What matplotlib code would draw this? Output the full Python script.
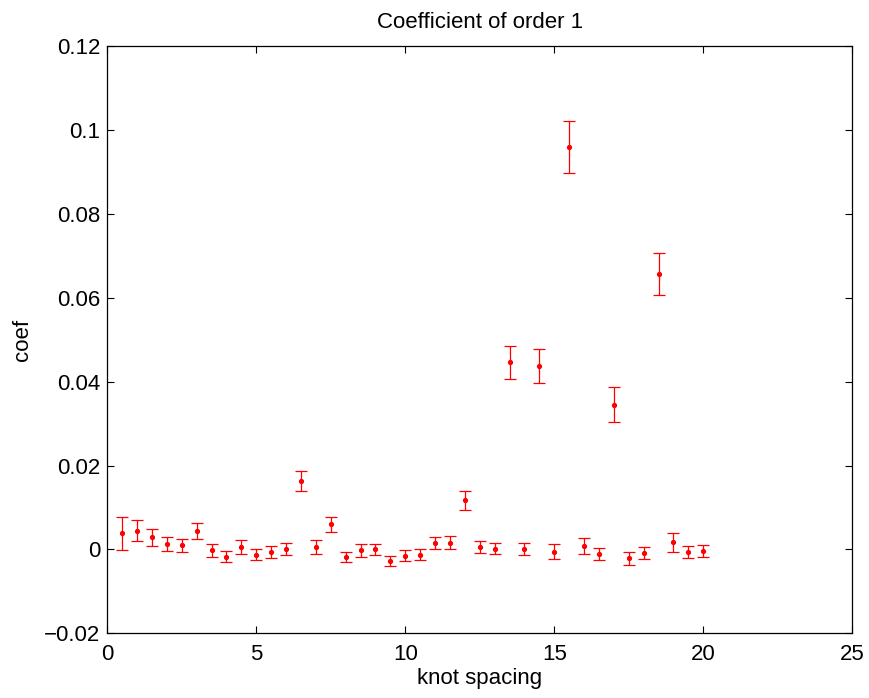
import numpy as np
import matplotlib
matplotlib.use('Agg')
import matplotlib.pyplot as plt

plt.rcParams['font.family'] = ['Liberation Sans', 'DejaVu Sans']

# knot spacing values
knots = [0.5, 1.0, 1.5, 2.0, 2.5, 3.0, 3.5, 4.0, 4.5, 5.0,
         5.5, 6.0, 6.5, 7.0, 7.5, 8.0, 8.5, 9.0, 9.5, 10.0,
         10.5, 11.0, 11.5, 12.0, 12.5, 13.0, 13.5, 14.0, 14.5, 15.0,
         15.5, 16.0, 16.5, 17.0, 17.5, 18.0, 18.5, 19.0, 19.5, 20.0]

# coefficient estimates
coef = [0.0038, 0.0045, 0.0029, 0.0013, 0.0010, 0.0044, -0.0002, -0.0017, 0.0006, -0.0013,
        -0.0006, 0.0001, 0.0164, 0.0006, 0.0060, -0.0018, -0.0002, 0.0000, -0.0027, -0.0015,
        -0.0013, 0.0016, 0.0016, 0.0117, 0.0005, 0.0002, 0.0446, 0.0001, 0.0437, -0.0005,
        0.0960, 0.0008, -0.0011, 0.0345, -0.0021, -0.0008, 0.0656, 0.0017, -0.0006, -0.0003]

# half-width of error bars
err = [0.0039, 0.0025, 0.0020, 0.0017, 0.0015, 0.0020, 0.0015, 0.0013, 0.0016, 0.0013,
       0.0015, 0.0015, 0.0024, 0.0016, 0.0018, 0.0012, 0.0016, 0.0013, 0.0012, 0.0013,
       0.0013, 0.0014, 0.0015, 0.0022, 0.0014, 0.0014, 0.0039, 0.0014, 0.0040, 0.0017,
       0.0062, 0.0019, 0.0014, 0.0041, 0.0015, 0.0014, 0.0050, 0.0022, 0.0015, 0.0014]

fig = plt.figure(figsize=(8.7, 6.98), dpi=100)
ax = fig.add_axes([0.1233, 0.0927, 0.8563, 0.8413])

ax.errorbar(knots, coef, yerr=err, fmt='.', color='red', ecolor='red',
            markersize=5.5, elinewidth=0.9, capsize=4, capthick=0.9)

ax.set_xlim(0, 25)
ax.set_ylim(-0.02, 0.12)
ax.set_xticks([0, 5, 10, 15, 20, 25])
ax.set_yticks([-0.02, 0, 0.02, 0.04, 0.06, 0.08, 0.1, 0.12])
ax.set_yticklabels(['\u22120.02', '0', '0.02', '0.04', '0.06', '0.08', '0.1', '0.12'])

ax.tick_params(direction='in', length=5, width=0.8, top=True, right=True,
               labelsize=16)
ax.tick_params(axis='x', pad=8)
ax.tick_params(axis='y', pad=5)
for s in ax.spines.values():
    s.set_linewidth(0.9)

ax.set_title('Coefficient of order 1', fontsize=16, pad=13)
ax.set_xlabel('knot spacing', fontsize=16, labelpad=2)
ax.set_ylabel('coef', fontsize=16, labelpad=8)

fig.savefig('out.png', dpi=100)
